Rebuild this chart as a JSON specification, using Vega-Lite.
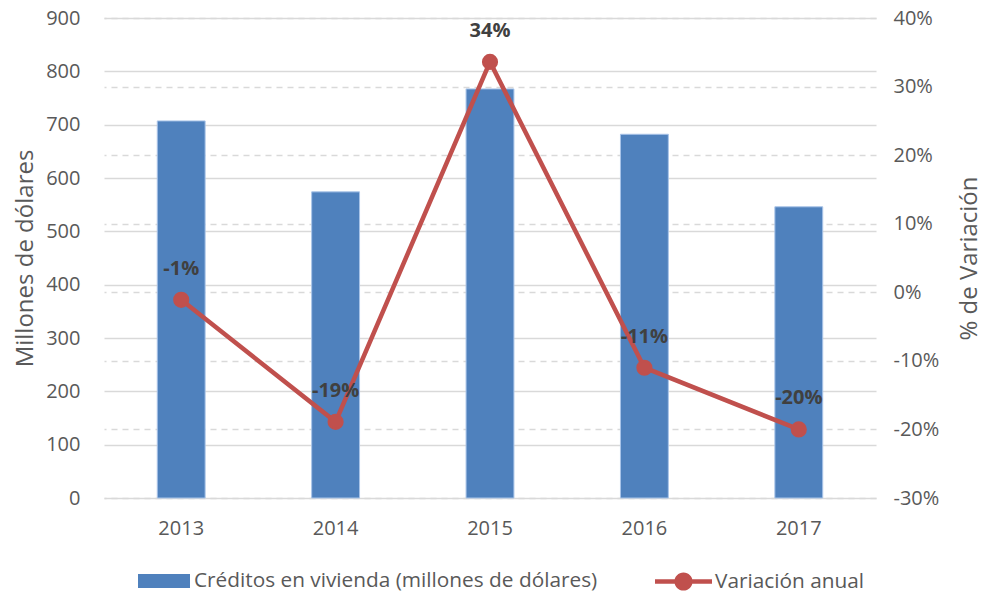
{
  "$schema": "https://vega.github.io/schema/vega-lite/v6.json",
  "width": 772,
  "height": 480,
  "autosize": {"type": "none"},
  "padding": {"left": 104, "top": 18, "right": 108, "bottom": 98},
  "background": "white",
  "config": {
    "font": "Open Sans",
    "view": {"stroke": null},
    "axis": {"labelFont": "Open Sans", "titleFont": "Open Sans", "labelColor": "#595959", "titleColor": "#595959", "labelFontSize": 20, "titleFontSize": 24, "titleFontWeight": "normal", "domain": false, "ticks": false},
    "legend": {"labelFont": "Open Sans", "labelFontSize": 20.8, "labelColor": "#595959", "padding": 0, "labelLimit": 0}
  },
  "data": {"values": [
    {"year": "2013", "creditos": 707, "variacion": -0.011, "label": "-1%"},
    {"year": "2014", "creditos": 574, "variacion": -0.189, "label": "-19%"},
    {"year": "2015", "creditos": 767, "variacion": 0.336, "label": "34%"},
    {"year": "2016", "creditos": 682, "variacion": -0.11, "label": "-11%"},
    {"year": "2017", "creditos": 546, "variacion": -0.2, "label": "-20%"}
  ]},
  "encoding": {
    "x": {"field": "year", "type": "nominal", "scale": {"paddingInner": 0.69, "paddingOuter": 0.345}, "axis": {"title": null, "labelAngle": 0, "labelPadding": 20, "grid": false}}
  },
  "layer": [
    {
      "mark": {"type": "bar", "stroke": "#A9C4E8", "strokeWidth": 1},
      "encoding": {
        "y": {"field": "creditos", "type": "quantitative", "scale": {"domain": [0, 900], "nice": false}, "axis": {"title": "Millones de dólares", "values": [0,100,200,300,400,500,600,700,800,900], "grid": true, "gridColor": "#D9D9D9", "gridWidth": 1.3, "labelPadding": 24, "titlePadding": 8}},
        "fill": {"datum": "Créditos en vivienda (millones de dólares)", "type": "nominal", "scale": {"range": ["#4F81BD"]}, "legend": {"title": null, "orient": "none", "legendX": 34, "legendY": 537, "symbolType": "M-1,-0.27H1V0.27H-1Z", "symbolSize": 2704, "symbolStrokeWidth": 0, "labelOffset": 4}}
      }
    },
    {
      "layer": [
        {
          "mark": {"type": "line", "color": "#C0504D", "strokeWidth": 4.5, "point": {"filled": true, "size": 200, "color": "#C0504D"}},
          "encoding": {
            "y": {"field": "variacion", "type": "quantitative", "scale": {"domain": [-0.3, 0.4], "nice": false}, "axis": {"orient": "right", "title": "% de Variación", "titleAngle": 270, "format": ".0%", "labelExpr": "replace(datum.label, '\u2212', '-')", "values": [-0.3,-0.2,-0.1,0,0.1,0.2,0.3,0.4], "grid": true, "gridColor": "#D9D9D9", "gridDash": [6, 5], "gridWidth": 1.3, "labelPadding": 17, "titlePadding": 43}},
            "stroke": {"datum": "Variación anual", "type": "nominal", "scale": {"range": ["#C0504D"]}, "legend": {"title": null, "orient": "none", "legendX": 551, "legendY": 535, "symbolType": "M-1,-0.08H1V0.08H-1Z M-0.32,0A0.32,0.32 0 1,1 0.32,0A0.32,0.32 0 1,1 -0.32,0Z", "symbolSize": 3249, "symbolFillColor": "#C0504D", "symbolStrokeWidth": 0, "labelOffset": 3}}
          }
        },
        {
          "mark": {"type": "text", "fontWeight": "bold", "fontSize": 20, "color": "#404040", "font": "Open Sans", "dy": -31},
          "encoding": {
            "y": {"field": "variacion", "type": "quantitative"},
            "text": {"field": "label"}
          }
        }
      ]
    }
  ],
  "resolve": {"scale": {"y": "independent", "fill": "independent", "stroke": "independent"}, "legend": {"fill": "independent", "stroke": "independent"}}
}
